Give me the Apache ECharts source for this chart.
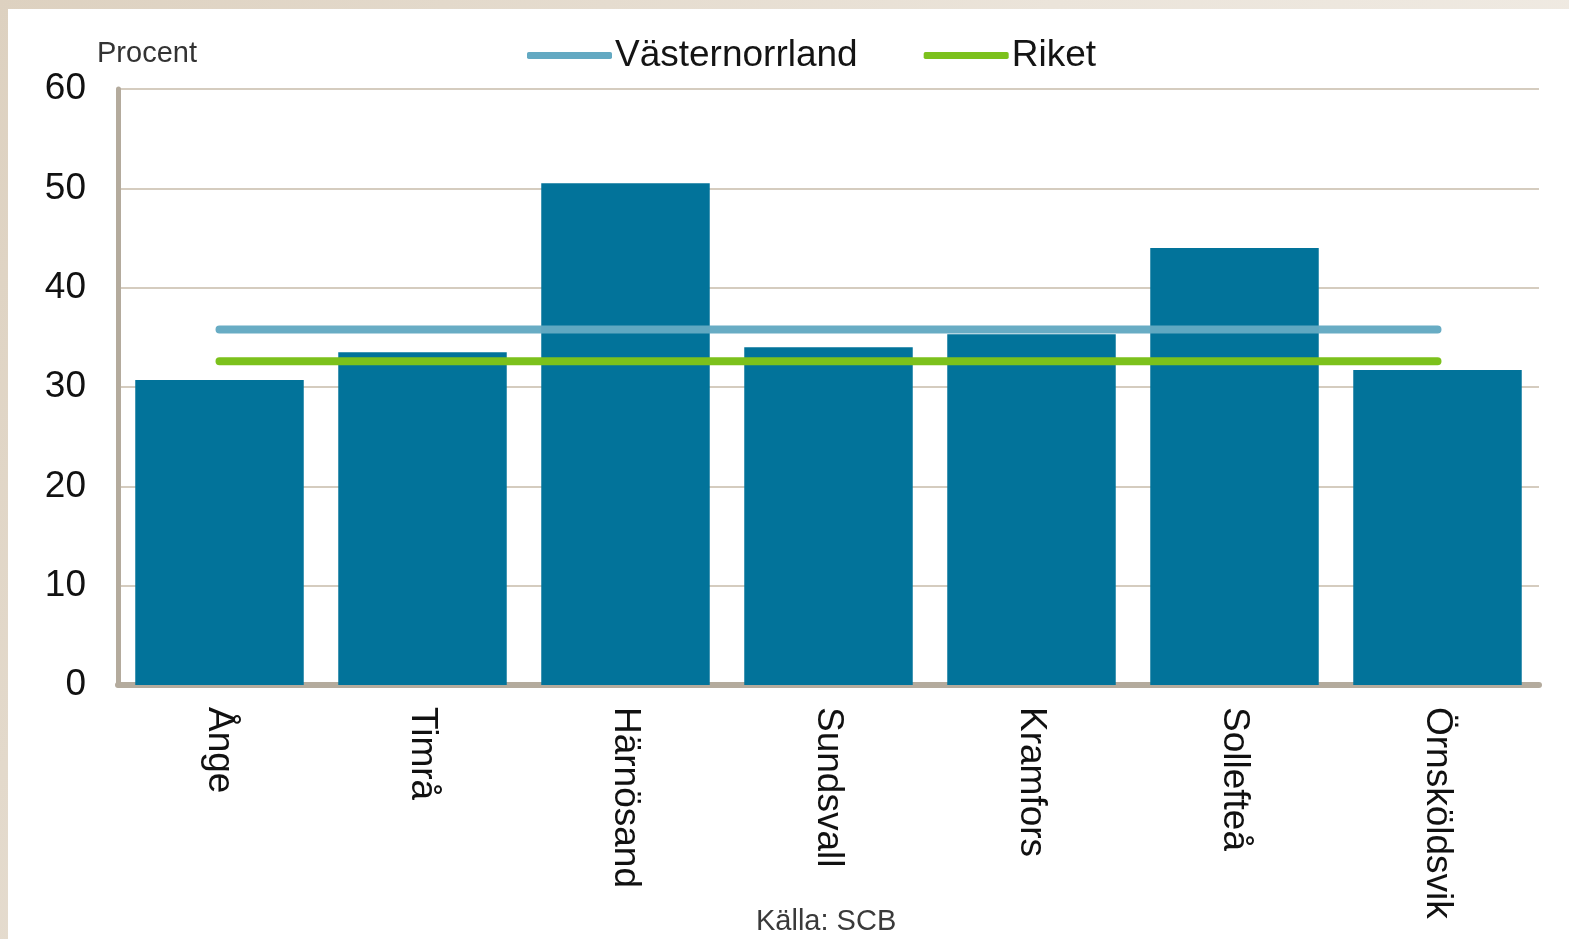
<!DOCTYPE html>
<html>
<head>
<meta charset="utf-8">
<title>Procent</title>
<script src="https://cdn.jsdelivr.net/npm/echarts@6/dist/echarts.min.js"></script>
<style>
  html, body { margin: 0; padding: 0; }
  body {
    width: 1569px;
    height: 939px;
    background: linear-gradient(120deg, #ddd1c0 0%, #ebe4da 50%, #f3efe9 100%);
    position: relative;
    overflow: hidden;
  }
  #chart {
    position: absolute;
    left: 8px;
    top: 9px;
    width: 1561px;
    height: 930px;
    background: #fff;
  }
</style>
</head>
<body>
<div id="chart"></div>
<script>
// kommuner
const categories = ["Ånge", "Timrå", "Härnösand", "Sundsvall", "Kramfors", "Sollefteå", "Örnsköldsvik"];
// andel per kommun, procent
const kommunValues = [30.7, 33.5, 50.5, 34.0, 35.3, 44.0, 31.7];
// länsnivå och riksnivå
const vasternorrlandValues = [35.8, 35.8, 35.8, 35.8, 35.8, 35.8, 35.8];
const riketValues = [32.6, 32.6, 32.6, 32.6, 32.6, 32.6, 32.6];
const yTicks = [0, 10, 20, 30, 40, 50, 60];

const font = "'Liberation Sans', Arial, sans-serif";

const chart = echarts.init(document.getElementById("chart"));

const options = {
  animation: false,
  textStyle: { fontFamily: font },
  legend: {
    data: ["Västernorrland", "Riket"],
    left: 514,
    top: 23,
    icon: "roundRect",
    itemWidth: 85,
    itemHeight: 7,
    itemGap: 66,
    textStyle: {
      fontFamily: font,
      fontSize: 37,
      color: "#141414",
      padding: [0, 0, 0, -2],
    },
  },
  grid: {
    left: 110,
    right: 30,
    top: 80,
    bottom: 254,
    containLabel: false,
  },
  xAxis: {
    type: "category",
    data: categories,
    axisLine: {
      show: true,
      lineStyle: { color: "#b4ab9d", width: 6 },
    },
    axisTick: { show: false },
    axisLabel: {
      rotate: -90,
      margin: 22,
      fontSize: 37,
      color: "#111",
      fontFamily: font,
    },
  },
  yAxis: {
    type: "value",
    min: yTicks[0],
    max: yTicks[yTicks.length - 1],
    interval: 10,
    axisLine: {
      show: true,
      lineStyle: { color: "#b4ab9d", width: 5 },
    },
    axisTick: { show: false },
    axisLabel: {
      margin: 32,
      fontSize: 37,
      color: "#111",
      fontFamily: font,
    },
    splitLine: {
      show: true,
      lineStyle: { color: "#d5ccbf", width: 2 },
    },
  },
  graphic: [
    {
      type: "text",
      left: 89,
      top: 30,
      style: {
        text: "Procent",
        fontSize: 29,
        fontFamily: font,
        fill: "#333",
      },
    },
    {
      type: "text",
      left: 748,
      top: 898,
      style: {
        text: "Källa: SCB",
        fontSize: 29,
        fontFamily: font,
        fill: "#3a3a3a",
      },
    },
  ],
  series: [
    {
      name: "Kommun",
      type: "bar",
      data: kommunValues,
      barCategoryGap: "17%",
      itemStyle: { color: "#02739a" },
    },
    {
      name: "Västernorrland",
      type: "line",
      data: vasternorrlandValues,
      symbol: "none",
      itemStyle: { color: "#63a9c2" },
      lineStyle: { color: "#63a9c2", width: 8, cap: "round", opacity: 0.97 },
      z: 5,
    },
    {
      name: "Riket",
      type: "line",
      data: riketValues,
      symbol: "none",
      itemStyle: { color: "#7cc11c" },
      lineStyle: { color: "#7cc11c", width: 8, cap: "round" },
      z: 6,
    },
  ],
};

chart.setOption(options);
</script>
</body>
</html>
